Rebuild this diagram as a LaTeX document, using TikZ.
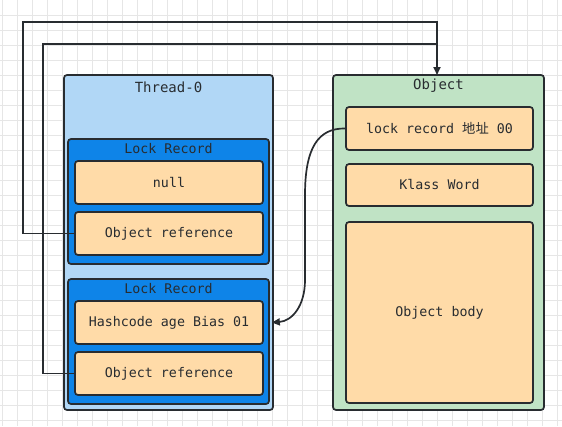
\documentclass[tikz,border=0pt]{standalone}
\usepackage{fontspec}
\setmonofont{DejaVu Sans Mono}
\newfontfamily\cjk{Noto Sans CJK SC}
\usetikzlibrary{arrows.meta}
\definecolor{gridc}{RGB}{230,230,230}
\definecolor{edge}{RGB}{40,44,48}
\definecolor{threadc}{RGB}{177,215,246}
\definecolor{lockc}{RGB}{14,132,232}
\definecolor{cellc}{RGB}{255,219,168}
\definecolor{objc}{RGB}{192,227,197}
\tikzset{
  box/.style={draw=edge, line width=1.7pt, rounded corners=3pt},
  cell/.style={box, fill=cellc},
  lbl/.style={font=\ttfamily\fontsize{13.3}{15}\selectfont, text=edge},
  ttl/.style={font=\ttfamily\fontsize{14}{16}\selectfont, text=edge},
  wire/.style={draw=edge, line width=1.7pt},
  tip/.style={-{Triangle[length=8pt,width=7pt]}}
}
\begin{document}
\begin{tikzpicture}[x=1pt,y=-1pt]
\useasboundingbox (0,0) rectangle (562,426);
\fill[white] (0,0) rectangle (562,426);
\foreach \i in {0,...,37} {\draw[gridc, line width=0.8pt] (2.5+15*\i,0) -- (2.5+15*\i,426);}
\foreach \j in {1,...,28} {\draw[gridc, line width=0.8pt] (0,15*\j) -- (562,15*\j);}
% Thread-0
\draw[box, fill=threadc] (64,75) rectangle (273,410);
\node[ttl] (thr) at (168.5,87) {Thread-0};
% lock record 1
\draw[box, fill=lockc] (68,139) rectangle (269,264);
\node[lbl] (lr1) at (168.5,149) {Lock Record};
\node[cell, minimum width=188pt, minimum height=43pt, lbl] (null) at (169,182.5) {null};
\node[cell, minimum width=188pt, minimum height=43pt, lbl] (ref1) at (169,233.5) {Object reference};
% lock record 2
\draw[box, fill=lockc] (68,279) rectangle (269,404);
\node[lbl] (lr2) at (168.5,289) {Lock Record};
\node[cell, minimum width=188pt, minimum height=43pt, lbl] (hash) at (169,322.5) {Hashcode age Bias 01};
\node[cell, minimum width=188pt, minimum height=43pt, lbl] (ref2) at (169,373.5) {Object reference};
% Object
\draw[box, fill=objc] (333,75) rectangle (544,410);
\node[ttl] (objt) at (438.5,86) {Object};
\node[cell, minimum width=187pt, minimum height=43pt, lbl] (lrec) at (439.5,128.5) {lock record {\cjk 地址} 00};
\node[cell, minimum width=187pt, minimum height=42pt, lbl] (klass) at (439.5,185) {Klass Word};
\node[cell, minimum width=187pt, minimum height=181pt, lbl] (body) at (439.5,312.5) {Object body};
\coordinate (otop) at (437,75);
% connectors
\draw[wire, tip] (ref1.west) -- (23,233.5) -- (23,22) -- (437,22) -- (otop);
\draw[wire] (ref2.west) -- (43,373.5) -- (43,44) -- (437,44);
\draw[wire, tip] (lrec.west) .. controls (318,128) and (305,148) .. (305,195)
  -- (305,280) .. controls (305,306) and (292,321) .. ([xshift=8pt]hash.east);
\end{tikzpicture}
\end{document}
